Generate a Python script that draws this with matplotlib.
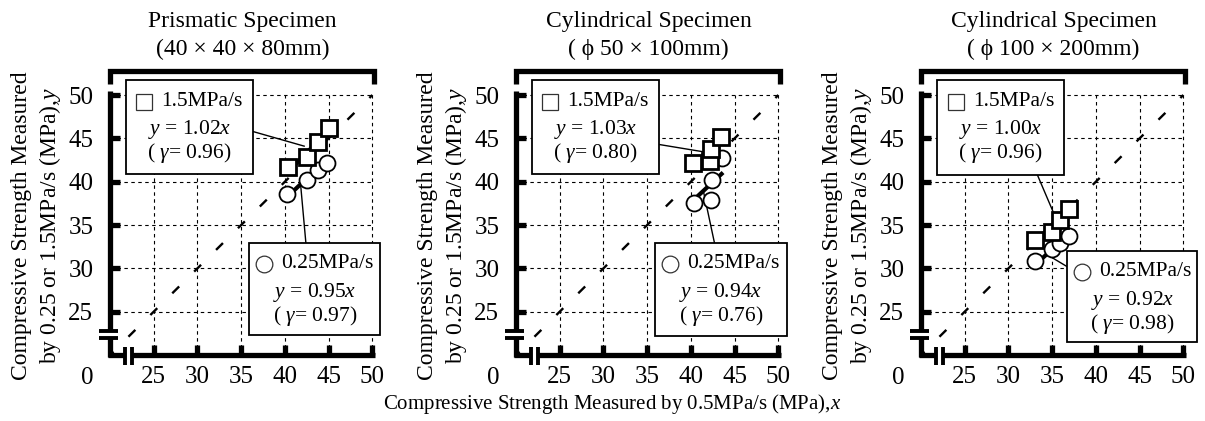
import matplotlib.pyplot as plt
from matplotlib.patches import Rectangle

plt.rcParams['font.family'] = ['Liberation Serif', 'DejaVu Serif']
plt.rcParams['mathtext.fontset'] = 'custom'
plt.rcParams['mathtext.rm'] = 'Liberation Serif'
plt.rcParams['mathtext.it'] = 'Liberation Serif:italic'
plt.rcParams['lines.scale_dashes'] = False

# ---------------- data ----------------
titles = ['Prismatic Specimen\n(40 × 40 × 80mm)',
          'Cylindrical Specimen\n( ϕ 50 × 100mm)',
          'Cylindrical Specimen\n( ϕ 100 × 200mm)']

ticks = [25, 30, 35, 40, 45, 50]

# 1.5 MPa/s (squares)
sq_x = [[40.3, 42.5, 43.8, 45.0],
        [40.2, 42.2, 42.3, 43.4],
        [33.0, 35.0, 35.9, 36.9]]
sq_y = [[41.7, 42.8, 44.6, 46.2],
        [42.2, 42.4, 43.8, 45.2],
        [33.3, 34.2, 35.6, 36.9]]
sq_k = [1.02, 1.03, 1.00]
sq_r = [0.96, 0.80, 0.96]

# 0.25 MPa/s (circles)
ci_x = [[40.2, 42.5, 43.8, 44.8],
        [40.3, 42.3, 42.4, 43.5],
        [33.0, 35.0, 35.95, 36.9]]
ci_y = [[38.6, 40.2, 41.3, 42.1],
        [37.5, 37.9, 40.2, 42.7],
        [30.8, 32.2, 32.9, 33.7]]
ci_k = [0.95, 0.94, 0.92]
ci_r = [0.97, 0.76, 0.98]

# annotation boxes (x0, x1, y0, y1) and leader lines, in data units
sq_box = [(21.8, 36.3, 40.9, 51.7), (21.8, 36.3, 40.9, 51.7), (21.85, 36.35, 40.8, 51.7)]
sq_lead = [((36.3, 45.8), (42.2, 44.1)), ((36.3, 44.3), (41.4, 43.45)), ((33.3, 40.8), (35.2, 36.3))]
ci_box = [(35.95, 50.9, 22.3, 32.9), (35.9, 50.95, 22.2, 32.9), (36.7, 51.6, 21.5, 32.0)]
ci_lead = [((42.4, 32.9), (41.8, 39.6)), ((42.7, 32.9), (41.45, 38.8)), ((36.7, 30.2), (34.3, 31.65))]

FS = 15.5      # box text
TFS = 18       # tick labels
lefts = [110, 516, 921]

fig = plt.figure(figsize=(12.05, 4.21), dpi=100)


def draw_frame(ax):
    kw = dict(color='k', lw=3.8, solid_capstyle='butt', solid_joinstyle='miter',
              clip_on=False, zorder=7)
    ax.plot([20, 20, 50.2, 50.2], [51.3, 52.8, 52.8, 51.3], **kw)
    ax.plot([20, 20], [19.8, 22.0], **kw)
    ax.plot([20, 20], [22.77, 50.45], **kw)
    ax.plot([19.8, 21.67], [20, 20], **kw)
    ax.plot([22.47, 50.35], [20, 20], **kw)
    bk = dict(color='k', lw=2.8, solid_capstyle='butt', clip_on=False, zorder=7)
    ax.plot([18.75, 20.9], [22.0, 22.0], **bk)
    ax.plot([18.75, 20.9], [22.77, 22.77], **bk)
    ax.plot([21.67, 21.67], [18.85, 20.9], **bk)
    ax.plot([22.47, 22.47], [18.85, 20.9], **bk)


def draw_box(ax, box, lead, marker, sym_dx, txt_dx, label, k, r):
    x0, x1, y0, y1 = box
    ax.add_patch(Rectangle((x0, y0), x1 - x0, y1 - y0, facecolor='white',
                           edgecolor='k', lw=1.3, clip_on=False, zorder=8))
    (ax_, ay_), (bx_, by_) = lead
    ax.plot([ax_, bx_], [ay_, by_], color='k', lw=1.0, clip_on=False, zorder=4)
    xc = (x0 + x1) / 2
    ms = 11 if marker == 's' else 12
    ax.plot([x0 + sym_dx], [y1 - 2.45], marker, ms=ms, mfc='white', mec='#333333',
            mew=0.9, clip_on=False, zorder=9)
    ax.text(x0 + txt_dx, y1 - 2.4, label, ha='left', va='center', fontsize=FS, zorder=9)
    ax.text(xc, y1 - 5.7, r'$y$ = %.2f$x$' % k, ha='center', va='center',
            fontsize=FS, zorder=9)
    ax.text(xc, y1 - 8.4, r'( $\mathit{γ}$= %.2f)' % r, ha='center', va='center',
            fontsize=FS, zorder=9)


for i in range(3):
    ax = fig.add_axes([lefts[i] / 1205, 66 / 421, 265 / 1205, 286 / 421])
    ax.set_xlim(20, 50.3)
    ax.set_ylim(20, 53)
    for s in ax.spines.values():
        s.set_visible(False)
    ax.set_xticks(ticks)
    ax.set_yticks(ticks)
    ax.tick_params(direction='in', length=7, width=3.8, labelsize=TFS)
    ax.tick_params(axis='x', pad=8)
    ax.tick_params(axis='y', pad=12)

    # dashed grid limited to the 20-50 square
    for t in ticks:
        ax.plot([t, t], [20, 50], color='k', lw=0.8, ls=(0, (2.5, 2.5)), zorder=1)
        ax.plot([20, 50], [t, t], color='k', lw=0.8, ls=(0, (2.5, 2.5)), zorder=1)

    # 1:1 line
    ax.plot([20, 50], [20, 50], color='k', lw=1.7, ls=(3.5, (7, 15.2)),
            zorder=2, clip_on=False)

    # regression lines
    xs = [min(ci_x[i]), max(ci_x[i])]
    ax.plot(xs, [ci_k[i] * v for v in xs], color='k', lw=3, zorder=3)
    xs = [min(sq_x[i]), max(sq_x[i])]
    ax.plot(xs, [sq_k[i] * v for v in xs], color='k', lw=3, zorder=3)

    ax.plot(ci_x[i], ci_y[i], 'o', ms=11.5, mfc='white', mec='k', mew=1.3,
            zorder=5, clip_on=False)
    ax.plot(sq_x[i], sq_y[i], 's', ms=11, mfc='white', mec='k', mew=2.0,
            zorder=6, clip_on=False)

    draw_frame(ax)
    draw_box(ax, sq_box[i], sq_lead[i], 's', 2.1, 4.1, '1.5MPa/s', sq_k[i], sq_r[i])
    draw_box(ax, ci_box[i], ci_lead[i], 'o', 1.7, 3.65, '0.25MPa/s', ci_k[i], ci_r[i])

    ax.text(17.4, 17.4, '0', ha='center', va='center', fontsize=TFS)

    t1, t2 = titles[i].split('\n')
    ax.text(0.5, 1.165, t1, transform=ax.transAxes, ha='center', va='center', fontsize=17)
    ax.text(0.5, 1.07, t2, transform=ax.transAxes, ha='center', va='center', fontsize=17)

    ax.text(-0.335, 0.452, 'Compressive Strength Measured', transform=ax.transAxes,
            rotation=90, ha='center', va='center', fontsize=17)
    ax.text(-0.225, 0.452, r'by 0.25 or 1.5MPa/s (MPa),$y$', transform=ax.transAxes,
            rotation=90, ha='center', va='center', fontsize=17)

fig.text(0.508, 0.041, r'Compressive Strength Measured by 0.5MPa/s (MPa),$x$',
         ha='center', va='center', fontsize=15)

plt.savefig('out.png', dpi=100)
plt.close()
